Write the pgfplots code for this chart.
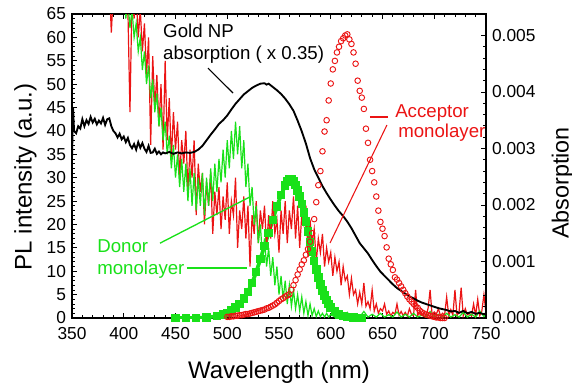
\documentclass[border=0pt]{standalone}
\usepackage{pgfplots}
\pgfplotsset{compat=1.18}
\usepackage{fontspec}
\setmainfont{Liberation Sans}
\definecolor{myred}{RGB}{235,20,20}
\definecolor{mygreen}{RGB}{25,225,25}
\begin{document}
\begin{tikzpicture}
\path[use as bounding box] (-54pt,-51.75pt) rectangle (375pt,238.5pt);
\begin{axis}[
  scale only axis, width=310.5pt, height=228pt,
  at={(0,0)}, anchor=south west,
  xmin=350, xmax=750, ymin=0, ymax=65,
  xtick={350,400,...,750}, ytick={0,5,...,65},
  minor x tick num=4, minor y tick num=4,
  tick align=inside, xtick pos=both, ytick pos=left,
  major tick length=3.8pt, minor tick length=2pt,
  axis line style={line width=0.9pt}, every tick/.style={line width=0.6pt,black},
  tick label style={font=\fontsize{13}{15}\selectfont},
  xticklabel style={yshift=-3.5pt},
  yticklabel style={xshift=-1pt},
  /pgf/number format/assume math mode=true,
  xlabel={Wavelength (nm)}, ylabel={PL intensity (a.u.)},
  label style={font=\fontsize{18}{20}\selectfont},
  xlabel style={at={(axis description cs:0.5,-0.1974)}, anchor=base},
  ylabel style={at={(axis description cs:-0.1127,0.464)}, anchor=center},
  clip=true,
]
% Donor absorption (green squares)
\addplot[mygreen, line width=2.8pt, mark=square*, mark size=1.8pt, mark options={solid,mygreen}] coordinates {
(450,0)(460,0)(470,0)(480,0.1)(490,0.4)(496,0.8)(500,1.1)(504,1.6)(508,2.2)(512,3.0)(516,4.2)(520,5.6)(524,7.5)(528,9.8)(532,12.6)(536,15.4)(540,18.2)(544,21)(548,23.8)(552,26.3)(556,28.3)(558,29.2)(560,29.6)(562,29.6)(564,29.2)(566,28.4)(568,27.3)(570,26)(572,24.4)(574,22.6)(576,20.6)(578,18.5)(580,16.3)(582,14.2)(584,12.2)(586,10.4)(588,8.7)(590,7.2)(592,5.9)(594,4.8)(596,3.8)(598,3.0)(600,2.3)(604,1.4)(608,0.8)(612,0.4)(616,0.2)(622,0.1)(630,0)
};
% Acceptor PL (red noisy)
\addplot[myred, line width=0.9pt, mark=none] coordinates {
(386,72)(388,61)(390,70)(392,68)(394,74)(396,69)(398,72)(400,67)(402,71)(404,66)(406,44)(408,69)(410,64)(412,70)(414,60)(416,66)(418,57)(420,63)(422,52)(424,60)(426,37)(428,56)(430,45)(432,52)(434,41)(436,50)(438,36)(440,55)(442,38)(444,47)(446,34)(448,44)(450,36)(452,42)(454,30)(456,38)(458,33)(460,40)(462,27)(464,36)(466,30)(468,38)(470,22)(472,33)(474,27)(476,31)(478,20)(480,29)(482,24)(484,31)(486,18)(488,27)(490,22)(492,28)(494,19)(496,26)(498,21)(500,29)(502,18)(504,25)(506,22)(508,30)(510,15)(512,23)(514,19)(516,26)(518,17)(520,24)(522,11)(524,22)(526,18)(528,25)(530,16)(532,23)(534,19)(536,24)(538,15)(540,22)(542,17)(544,25)(546,18)(548,21)(550,14)(552,23)(554,18)(556,25)(558,16)(560,23)(562,19)(564,26)(566,17)(568,24)(570,15)(572,22)(574,20)(576,24)(578,13)(580,21)(582,16)(584,19)(586,12)(588,17)(590,14)(592,18)(594,11)(596,15)(598,12)(600,14)(602,9)(604,13)(606,10)(608,12)(610,7)(612,11)(614,8)(616,9)(618,5)(620,8.5)(622,5)(624,6)(626,3)(628,5.5)(630,3)(632,7.5)(634,2.5)(636,3.5)(638,2)(640,6)(642,1.5)(644,3)(646,1)(648,2)(650,1.5)(652,3)(654,0.8)(656,1.5)(658,0.5)(660,1.2)(662,0.8)(664,3)(666,0.6)(668,1.4)(670,0.5)(672,1.2)(674,0.4)(676,2)(678,0.8)(680,0.5)(682,6)(684,0.5)(686,1.6)(688,0.7)(690,1.2)(692,0.4)(694,2)(696,6)(698,0.5)(700,1.3)(702,0.8)(704,2)(706,0.5)(708,1)(710,0.6)(712,4.5)(714,0.5)(716,1.8)(718,0.6)(720,6)(722,0.5)(724,1.3)(726,6.5)(728,0.5)(730,2)(732,0.7)(734,1)(736,0.4)(738,3)(740,0.6)(742,4)(744,0.5)(746,1.5)(748,5)(750,1)
};
% Donor PL (green noisy)
\addplot[mygreen, line width=0.9pt, mark=none] coordinates {
(396,70)(398,66)(400,72)(402,64)(404,68)(406,62)(408,66)(410,60)(412,63)(414,57)(416,60)(418,53)(420,57)(422,50)(424,54)(426,47)(428,51)(430,44)(432,48)(434,41)(436,45)(438,38)(440,42)(442,35)(444,39)(446,32)(448,37)(450,30)(452,35)(454,28)(456,34)(458,27)(460,33)(462,25)(464,32)(466,24)(468,31)(470,23)(472,30)(474,24)(476,31)(478,22)(480,30)(482,24)(484,32)(486,25)(488,33)(490,27)(492,34)(494,29)(496,36)(498,30)(500,38)(502,32)(504,40)(506,34)(508,42)(510,35)(512,41)(514,32)(516,38)(518,28)(520,33)(522,24)(524,28)(526,20)(528,24)(530,16)(532,20)(534,13)(536,17)(538,11)(540,15)(542,9)(544,13)(546,7)(548,11)(550,5)(552,9)(554,4)(556,8)(558,3)(560,7)(562,2.5)(564,6)(566,2)(568,5)(570,1.5)(572,4.5)(574,1)(576,3.5)(578,0.5)(580,3)(582,0.5)(584,2)(586,0.3)(588,1.5)(590,0.3)(592,1)(594,0.2)(596,1)(598,0.2)(600,0.8)(604,0.2)(608,0.9)(612,0.2)(616,1.2)(620,0.2)(624,0.7)(628,0.2)(632,1.4)(636,0.2)(640,0.8)(644,0.2)(648,1)(652,0.2)(656,0.7)(660,0.2)(664,1.3)(668,0.2)(672,0.8)(676,0.2)(680,1)(684,0.2)(688,0.6)(692,0.2)(696,1.4)(700,0.2)(704,0.8)(708,0.2)(712,1)(716,0.2)(720,0.7)(724,0.2)(728,1.2)(732,0.2)(736,0.8)(740,0.2)(744,1.5)(748,0.3)(750,0.8)
};
% Gold NP absorption (x0.35)
\addplot[black, line width=1.4pt, mark=none] coordinates {
(350,34)(351,45)(352,40)(354,39.5)(356,41)(358,40.5)(360,42.5)(362,41)(364,42.3)(366,41.5)(368,43)(370,41.8)(372,42.6)(374,41.4)(376,42.2)(378,41.6)(380,42.8)(382,41.3)(384,42.5)(386,42.7)(388,41)(390,40)(392,39.5)(394,38.6)(396,39.4)(398,38.2)(400,38.8)(402,37.6)(404,38.5)(406,37)(408,36.3)(410,37.2)(412,36)(414,37.6)(416,36.4)(418,37.4)(420,36.2)(422,35.5)(424,36.8)(426,35.3)(428,35.4)(430,36.2)(432,35.1)(434,35.6)(436,35)(438,35.4)(440,35.2)(444,35.5)(448,35.1)(452,35.4)(456,35.2)(460,35.4)(464,35.3)(468,35.5)(472,36)(476,36.8)(480,38)(484,39.2)(488,40.3)(492,41.5)(496,42.3)(500,43.3)(504,44.6)(508,45.8)(512,46.8)(516,47.8)(520,48.5)(524,49.2)(528,49.7)(532,50.1)(536,50.2)(538,49.9)(540,50.1)(544,49.4)(548,48.7)(552,47.9)(556,46.9)(560,45.7)(564,44.3)(568,42.2)(572,39.9)(576,37.3)(580,34.2)(584,31.8)(588,30)(592,28.2)(596,26.7)(600,25.3)(604,24)(608,22.8)(612,21.8)(616,20.6)(620,19.2)(624,17.6)(628,16)(632,14.9)(636,13.8)(640,12.4)(644,11.1)(648,9.9)(652,9)(656,8.1)(660,7.2)(664,6.4)(668,5.8)(672,5.2)(676,4.6)(680,4.2)(684,3.7)(688,3.3)(692,3)(696,2.7)(700,2.4)(704,2.1)(708,1.9)(712,1.7)(716,1.4)(720,1.5)(724,1.1)(728,1.5)(732,1)(736,1.3)(740,0.9)(744,1.1)(748,0.8)(750,1)
};
% annotations
\node[font=\fontsize{14}{16}\selectfont, anchor=base west, inner sep=0pt] at (axis cs:437.9,59.9) {Gold NP};
\node[font=\fontsize{14}{16}\selectfont, anchor=base west, inner sep=0pt] at (axis cs:437.9,55.2) {absorption ( x 0.35)};
\draw[black, line width=0.8pt] (axis cs:481.4,53.45) -- (axis cs:505.6,48.1);
\node[font=\fontsize{14}{16}\selectfont, text=myred, anchor=base west, inner sep=0pt] at (axis cs:662.1,42.8) {Acceptor};
\node[font=\fontsize{14}{16}\selectfont, text=myred, anchor=base west, inner sep=0pt] at (axis cs:665.0,38.5) {monolayer};
\draw[myred, line width=0.8pt] (axis cs:637.9,42.98) -- (axis cs:655.3,42.98);
\draw[myred, line width=0.8pt] (axis cs:654.3,41.27) -- (axis cs:599.3,16.04);
\node[font=\fontsize{14}{16}\selectfont, text=mygreen, anchor=base west, inner sep=0pt] at (axis cs:374.2,14.1) {Donor};
\node[font=\fontsize{14}{16}\selectfont, text=mygreen, anchor=base west, inner sep=0pt] at (axis cs:374.2,9.4) {monolayer};
\draw[mygreen, line width=1pt] (axis cs:435.0,16.0) -- (axis cs:522.0,25.9);
\draw[mygreen, line width=1pt] (axis cs:461.1,10.7) -- (axis cs:519.1,10.7);
\end{axis}
\begin{axis}[
  scale only axis, width=310.5pt, height=228pt,
  at={(0,0)}, anchor=south west,
  xmin=350, xmax=750, ymin=0, ymax=0.00538,
  axis x line=none, axis y line*=right,
  ytick={0,0.001,0.002,0.003,0.004,0.005},
  minor y tick num=4,
  tick align=inside,
  major tick length=3.8pt, minor tick length=2pt,
  axis line style={line width=0.9pt}, every tick/.style={line width=0.6pt,black},
  scaled y ticks=false,
  yticklabel style={font=\fontsize{13}{15}\selectfont, xshift=1pt, /pgf/number format/.cd, fixed, fixed zerofill, precision=3},
  /pgf/number format/assume math mode=true,
  ylabel={Absorption},
  ylabel style={font=\fontsize{17.5}{20}\selectfont, at={(axis description cs:1.1852,0.444)}, anchor=center},
  clip=true,
]
\addplot[myred, only marks, mark=o, mark size=2.1pt, mark options={line width=0.7pt}] coordinates {
(500,0.00002)(502,0.00002)(504,0.00003)(506,0.00003)(508,0.00004)(510,0.00004)(512,0.00005)(514,0.00005)(516,0.00006)(518,0.00007)(520,0.00007)(522,0.00008)(524,0.00009)(526,0.0001)(528,0.00011)(530,0.00012)(532,0.00013)(534,0.00014)(536,0.00015)(538,0.00017)(540,0.00018)(542,0.0002)(544,0.00022)(546,0.00024)(548,0.00027)(550,0.0003)(552,0.00033)(554,0.00035)(556,0.00038)(558,0.0004)(560,0.00042)(562,0.0005)(564,0.00058)(566,0.00067)(568,0.00077)(570,0.00086)(572,0.00095)(574,0.00102)(576,0.00112)(578,0.00122)(580,0.00135)(582,0.0015)(584,0.00175)(586,0.00205)(588,0.00235)(590,0.0026)(592,0.00295)(594,0.0033)(596,0.0035)(598,0.00385)(600,0.00415)(602,0.0044)(604,0.00455)(606,0.0047)(608,0.0048)(610,0.0049)(612,0.00495)(614,0.005)(616,0.00502)(618,0.00493)(620,0.00485)(622,0.0047)(624,0.0045)(626,0.0042)(628,0.00402)(630,0.0039)(632,0.0037)(634,0.00335)(636,0.0031)(638,0.0028)(640,0.0026)(642,0.0024)(644,0.00215)(646,0.0019)(648,0.0017)(650,0.00158)(652,0.00145)(654,0.00125)(656,0.00105)(658,0.00095)(660,0.00085)(662,0.00072)(664,0.00068)(666,0.00062)(668,0.00056)(670,0.0005)(672,0.00044)(674,0.00038)(676,0.00033)(678,0.00029)(680,0.00025)(682,0.00021)(684,0.00018)(686,0.00013)(688,0.0001)(690,0.00008)(692,0.00006)(694,0.00005)(696,0.00004)(698,0.00003)(700,0.00002)(702,0.00001)(704,0.00001)(706,0)(708,0)(710,0)
};
\end{axis}
\end{tikzpicture}
\end{document}
